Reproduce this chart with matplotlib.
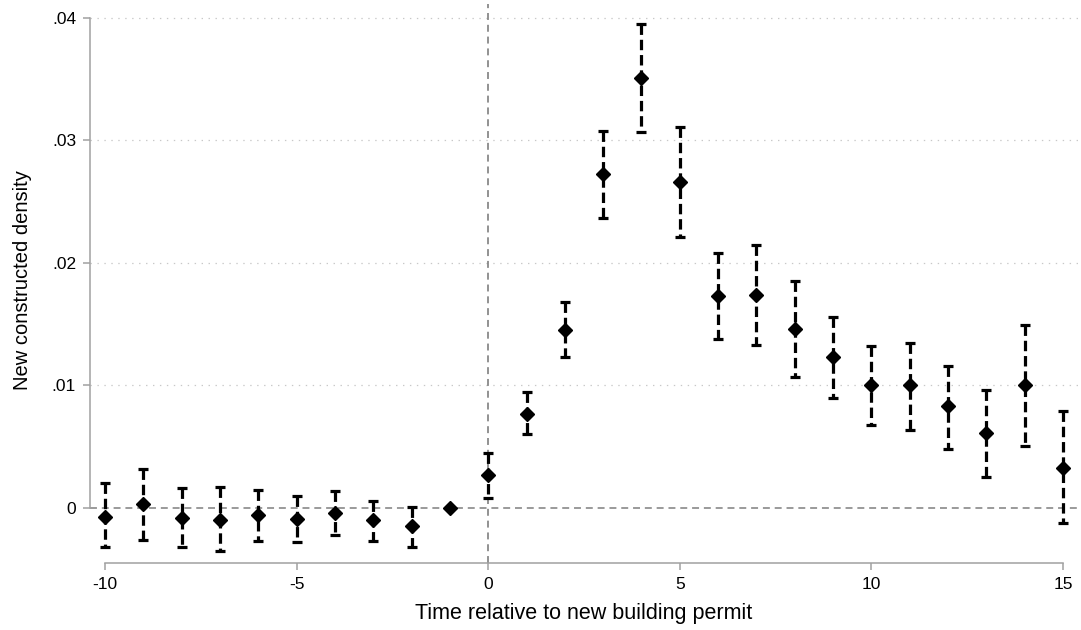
import matplotlib
matplotlib.use("Agg")
import matplotlib.pyplot as plt

plt.rcParams['font.family'] = ['Liberation Sans', 'DejaVu Sans']
plt.rcParams['lines.scale_dashes'] = False

# data
periods = [-10, -9, -8, -7, -6, -5, -4, -3, -2, -1, 0, 1, 2, 3, 4, 5, 6, 7, 8, 9, 10, 11, 12, 13, 14, 15]
coef = [-0.0007, 0.0003, -0.0008, -0.0010, -0.0006, -0.0009, -0.0004, -0.0010, -0.0015, 0.0,
        0.0027, 0.0077, 0.0145, 0.0273, 0.0351, 0.0266, 0.0173, 0.0174, 0.0146, 0.0123,
        0.0100, 0.0100, 0.0083, 0.0061, 0.0100, 0.0033]
ci_low = [-0.0032, -0.0026, -0.0032, -0.0035, -0.0027, -0.0028, -0.0022, -0.0027, -0.0032, None,
          0.0008, 0.0060, 0.0123, 0.0237, 0.0307, 0.0221, 0.0138, 0.0133, 0.0107, 0.0090,
          0.0068, 0.0064, 0.0048, 0.0025, 0.0051, -0.0012]
ci_high = [0.0020, 0.0032, 0.0016, 0.0017, 0.0015, 0.0010, 0.0014, 0.0006, 0.0001, None,
           0.0045, 0.0095, 0.0168, 0.0308, 0.0395, 0.0311, 0.0208, 0.0215, 0.0185, 0.0156,
           0.0132, 0.0135, 0.0116, 0.0096, 0.0149, 0.0079]
xticks = [-10, -5, 0, 5, 10, 15]
xticklabels = ["-10", "-5", "0", "5", "10", "15"]
yticks = [0, 0.01, 0.02, 0.03, 0.04]
yticklabels = ["0", ".01", ".02", ".03", ".04"]

W, H = 1081, 630
fig = plt.figure(figsize=(W / 100, H / 100), dpi=100)
left, right, top, bottom = 90, 1078, 4, 563
aw, ah = right - left, bottom - top
ax = fig.add_axes([left / W, 1 - bottom / H, aw / W, ah / H])

ax.set_xlim(-10.391, 15.391)
ax.set_ylim(-0.00449, 0.04114)

# reference lines
for yv in yticks[1:]:
    ax.axhline(yv, color='#c8c8c8', lw=0.9, ls=(0, (1, 4)), zorder=1)
ax.axhline(0, color='#7f7f7f', lw=1.1, ls=(0, (5, 3.5)), zorder=1)
ax.axvline(0, color='#7f7f7f', lw=1.2, ls=(0, (5, 3.5)), zorder=1)

# confidence intervals
xs = [p for p, lo in zip(periods, ci_low) if lo is not None]
los = [lo for lo in ci_low if lo is not None]
his = [hi for hi in ci_high if hi is not None]
ax.vlines(xs, his, los, colors='black', linewidth=2.3, linestyles=[(0, (7.5, 3.5))], zorder=3)
ax.plot(xs, his, ls='none', marker='_', markersize=6.5, markeredgewidth=2.3, color='black', zorder=3)
ax.plot(xs, los, ls='none', marker='_', markersize=6.5, markeredgewidth=2.3, color='black', zorder=3)

# point estimates
ax.plot(periods, coef, ls='none', marker='D', markersize=7, color='black', zorder=4)

# axes styling
for s in ['top', 'right']:
    ax.spines[s].set_visible(False)
ax.spines['left'].set_bounds(0, 0.04)
ax.spines['bottom'].set_bounds(-10, 15)
for s in ['left', 'bottom']:
    ax.spines[s].set_color('#a0a0a0')
    ax.spines[s].set_linewidth(1.1)

ax.set_xticks(xticks)
ax.set_xticklabels(xticklabels)
ax.set_yticks(yticks)
ax.set_yticklabels(yticklabels)
ax.tick_params(axis='both', colors='#a0a0a0', length=5, width=1.1, labelcolor='black', labelsize=12.5)
ax.tick_params(axis='x', pad=5)
ax.tick_params(axis='y', pad=5)

ax.set_xlabel("Time relative to new building permit", fontsize=15.5)
ax.set_ylabel("New constructed density", fontsize=14.5)
ax.xaxis.set_label_coords(0.5, (bottom - 613) / ah)
ax.xaxis.label.set_va('center')
ax.yaxis.set_label_coords((22.5 - left) / aw, (bottom - 280) / ah)
ax.yaxis.label.set_va('center')
ax.yaxis.label.set_ha('center')

fig.savefig("out.png", dpi=100)
